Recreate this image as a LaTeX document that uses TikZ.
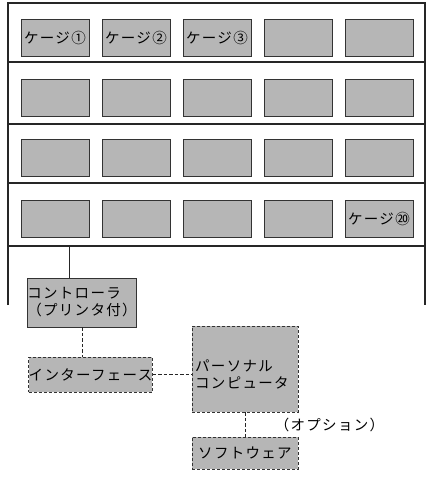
\documentclass[tikz,border=0pt]{standalone}
\usepackage{fontspec}
\setmainfont{Noto Sans CJK JP}[LetterSpace=9]
\begin{document}
\begin{tikzpicture}[x=1pt,y=-1pt,
  frame/.style={line width=1.3pt,black!85},
  cage/.style={draw=black!80,line width=0.8pt,fill=boxgray,minimum width=68pt,minimum height=37pt,inner sep=0pt},
  solidbox/.style={draw=black!80,line width=0.8pt,fill=boxgray,inner sep=0pt,font=\fontsize{14.5}{17}\selectfont},
  dashbox/.style={draw=black!80,line width=0.8pt,dash pattern=on 3pt off 2pt,fill=boxgray,inner sep=0pt,font=\fontsize{14.5}{17}\selectfont},
  link/.style={line width=0.9pt,black!85},
  dlink/.style={line width=0.9pt,black!85,dash pattern=on 3.5pt off 2pt},
  lbl/.style={inner sep=0pt,font=\fontsize{14.5}{17}\selectfont}]
\definecolor{boxgray}{RGB}{182,182,182}
\useasboundingbox (0,0) rectangle (428,477);
% frame
\coordinate (ftl) at (8,3);
\coordinate (ftr) at (425,3);
\coordinate (fbl) at (8,305);
\coordinate (fbr) at (425,305);
\draw[frame] (fbl) -- (ftl) -- (ftr) -- (fbr);
\foreach \yy in {62,124,183,246}{
  \draw[frame] (8,\yy) -- (425,\yy);
}
% cages
\foreach \r/\yy in {1/37.5,2/97.5,3/157.5,4/218.5}{
  \foreach \c/\xx in {1/55,2/136,3/217,4/298,5/379}{
    \node[cage] (c\r\c) at (\xx,\yy) {};
  }
}
\node[lbl] (t11) at (c11) {ケージ①};
\node[lbl] (t12) at (c12) {ケージ②};
\node[lbl] (t13) at (c13) {ケージ③};
\node[lbl] (t45) at (c45) {ケージ⑳};
% lower part
\coordinate (tap) at (69,246);
\node[solidbox,minimum width=106pt,minimum height=49pt,align=left] (ctrl) at (82,302.5) {コントローラ\\（プリンタ付）};
\node[dashbox,minimum width=123pt,minimum height=35pt] (iface) at (90.5,374.5) {インターフェース};
\node[dashbox,minimum width=106pt,minimum height=86pt] (pc) at (245,369) {};
\node[lbl,anchor=west,align=left] (pctext) at (195,374.5) {パーソナル\\コンピュータ};
\node[dashbox,minimum width=106pt,minimum height=32pt] (sw) at (245,453) {ソフトウェア};
\node[lbl] (opt) at (329.5,425) {（オプション）};
\draw[link] (tap) -- (tap |- ctrl.north);
\draw[dlink] (ctrl.south) -- (ctrl.south |- iface.north);
\draw[dlink] (iface.east) -- (iface.east -| pc.west);
\draw[dlink] (pc.south) -- (sw.north);
\end{tikzpicture}
\end{document}
